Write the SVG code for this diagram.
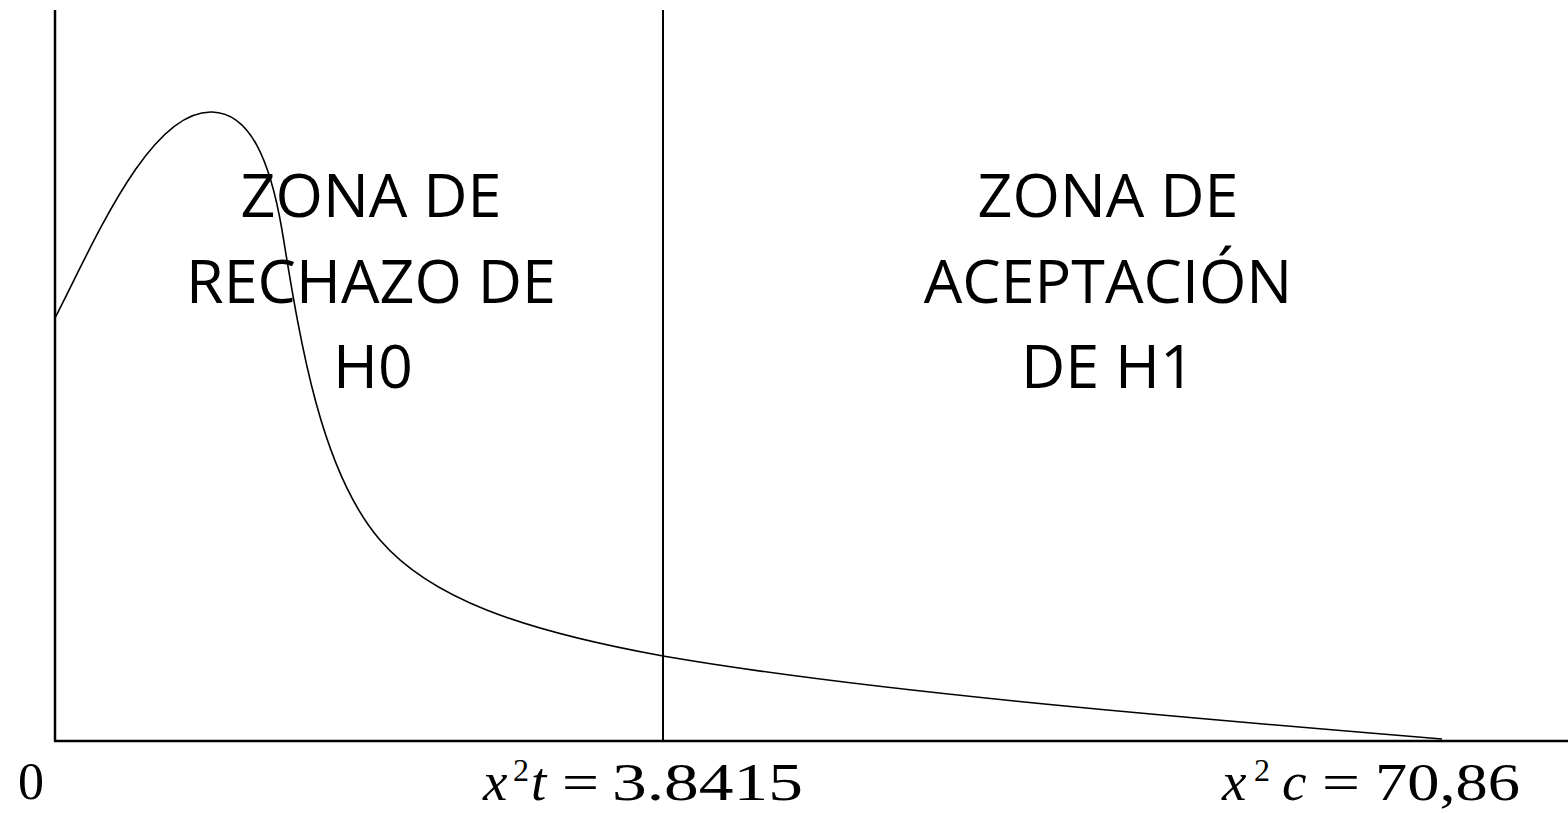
<svg xmlns="http://www.w3.org/2000/svg" width="1568" height="813" viewBox="0 0 1568 813">
<style>
.ax{stroke:#000;stroke-width:2.5;fill:none}
.cv{stroke:#000;stroke-width:1.6;fill:none}
.z{font-family:"Open Sans",sans-serif;font-size:61px;fill:#000;text-anchor:middle}
.m{font-family:"Liberation Serif",serif;font-size:52px;fill:#000}
.i{font-style:italic;font-size:55px}
.s{font-family:"Liberation Serif",serif;font-size:32px;fill:#000}
</style>
<rect width="1568" height="813" fill="#fff"/>
<g id="axes">
<line class="ax" x1="55" y1="10" x2="55" y2="741"/>
<line class="ax" x1="54" y1="741" x2="1568" y2="741"/>
</g>
<g id="critical-line">
<line x1="663" y1="10" x2="663" y2="741" stroke="#000" stroke-width="2"/>
</g>
<g id="curve">
<path class="cv" d="M55,318 C95,240 150,110 212,112 C250,113 270,160 282,230 C300,340 320,470 380,540 C430,598 520,630 663,656 C860,690 1150,715 1442,739"/>
</g>
<g id="zona-rechazo">
<text class="z" x="371" y="217">ZONA DE</text>
<text class="z" x="371" y="303">RECHAZO DE</text>
<text class="z" x="373" y="388">H0</text>
</g>
<g id="zona-aceptacion">
<text class="z" x="1108" y="217">ZONA DE</text>
<text class="z" x="1108" y="303">ACEPTACIÓN</text>
<text class="z" x="1108" y="388">DE H1</text>
</g>
<g id="labels">
<text class="m" x="18" y="799">0</text>
<text class="m i" x="483" y="800">x</text>
<text class="s" x="513" y="781">2</text>
<text class="m i" x="531" y="800">t</text>
<text class="m" x="562" y="800" textLength="37" lengthAdjust="spacingAndGlyphs">=</text>
<text class="m" x="612" y="800" textLength="191" lengthAdjust="spacingAndGlyphs">3.8415</text>
<text class="m i" x="1222" y="800">x</text>
<text class="s" x="1254" y="781">2</text>
<text class="m i" x="1282" y="800">c</text>
<text class="m" x="1322" y="800" textLength="38" lengthAdjust="spacingAndGlyphs">=</text>
<text class="m" x="1375" y="800" textLength="145" lengthAdjust="spacingAndGlyphs">70,86</text>
</g>
</svg>
